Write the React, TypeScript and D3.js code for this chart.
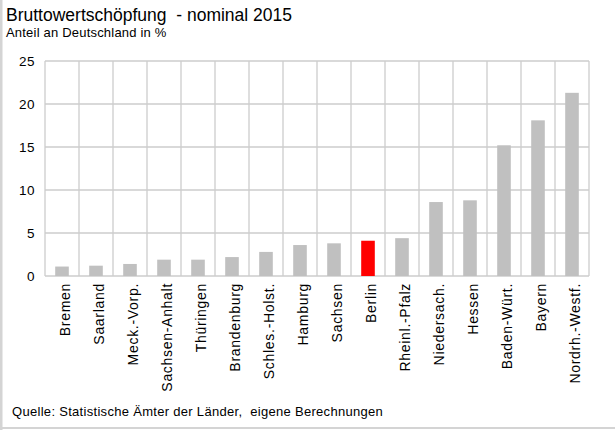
import React from "react";
import * as d3 from "d3";

const categories = [
  "Bremen", "Saarland", "Meck.-Vorp.", "Sachsen-Anhalt", "Thüringen", "Brandenburg",
  "Schles.-Holst.", "Hamburg", "Sachsen", "Berlin", "Rheinl.-Pfalz", "Niedersach.",
  "Hessen", "Baden-Würt.", "Bayern", "Nordrh.-Westf.",
];
const values = [1.1, 1.2, 1.4, 1.9, 1.9, 2.2, 2.8, 3.6, 3.8, 4.1, 4.4, 8.6, 8.8, 15.2, 18.1, 21.3];
const highlight = "Berlin";
const yTicks = [0, 5, 10, 15, 20, 25];
const title = "Bruttowertschöpfung  - nominal 2015";
const subtitle = "Anteil an Deutschland in %";
const source = "Quelle: Statistische Ämter der Länder,  eigene Berechnungen";

const W = 615;
const H = 430;
const plot = { left: 45, right: 589, top: 61, bottom: 276 };
const FONT = "'Liberation Sans', Arial, sans-serif";
const GRID = "#cccccc";

export default function App() {
  const x = d3
    .scaleBand<string>()
    .domain(categories)
    .range([plot.left, plot.right])
    .paddingInner(0.6)
    .paddingOuter(0.3);
  const y = d3.scaleLinear().domain([0, 25]).range([plot.bottom, plot.top]);
  const step = x.step();
  const vLines = d3.range(categories.length + 1).map((i) => plot.left + i * step);

  return (
    <svg
      width={W}
      height={H}
      style={{ position: "absolute", left: 0, top: 0, background: "#fff" }}
      fontFamily={FONT}
    >
      <rect x={0} y={0} width={W} height={H} fill="#fff" />
      <rect x={0} y={0} width={2.5} height={H} fill="#d4d4d4" />
      <rect x={0} y={427} width={W} height={2} fill="#d4d4d4" />

      <text x={6} y={21} fontSize={17.5} fill="#000" style={{ whiteSpace: "pre" }}>{title}</text>
      <text x={6} y={37} fontSize={13} letterSpacing={0.2} fill="#000">{subtitle}</text>

      {yTicks.map((t) => (
        <line key={"h" + t} x1={plot.left} x2={plot.right} y1={y(t)} y2={y(t)} stroke={GRID} strokeWidth={1.3} />
      ))}
      {vLines.map((vx, i) => (
        <line key={"v" + i} x1={vx} x2={vx} y1={plot.top} y2={plot.bottom} stroke={GRID} strokeWidth={1.3} />
      ))}

      {categories.map((c, i) => (
        <rect
          key={c}
          x={x(c)}
          y={y(values[i])}
          width={x.bandwidth()}
          height={y(0) - y(values[i])}
          fill={c === highlight ? "#ff0000" : "#c0c0c0"}
        />
      ))}

      {yTicks.map((t) => (
        <text key={"t" + t} x={35} y={y(t)} dy="0.36em" textAnchor="end" fontSize={13.5} letterSpacing={0.5} fill="#000">
          {t}
        </text>
      ))}

      {categories.map((c) => (
        <text
          key={"l" + c}
          transform={`translate(${(x(c) as number) + x.bandwidth() / 2 + 7.5},283) rotate(-90)`}
          textAnchor="end"
          fontSize={14}
          letterSpacing={0.7}
          fill="#000"
        >
          {c}
        </text>
      ))}

      <text x={12} y={416} fontSize={13} letterSpacing={0.3} fill="#000" style={{ whiteSpace: "pre" }}>{source}</text>
    </svg>
  );
}
